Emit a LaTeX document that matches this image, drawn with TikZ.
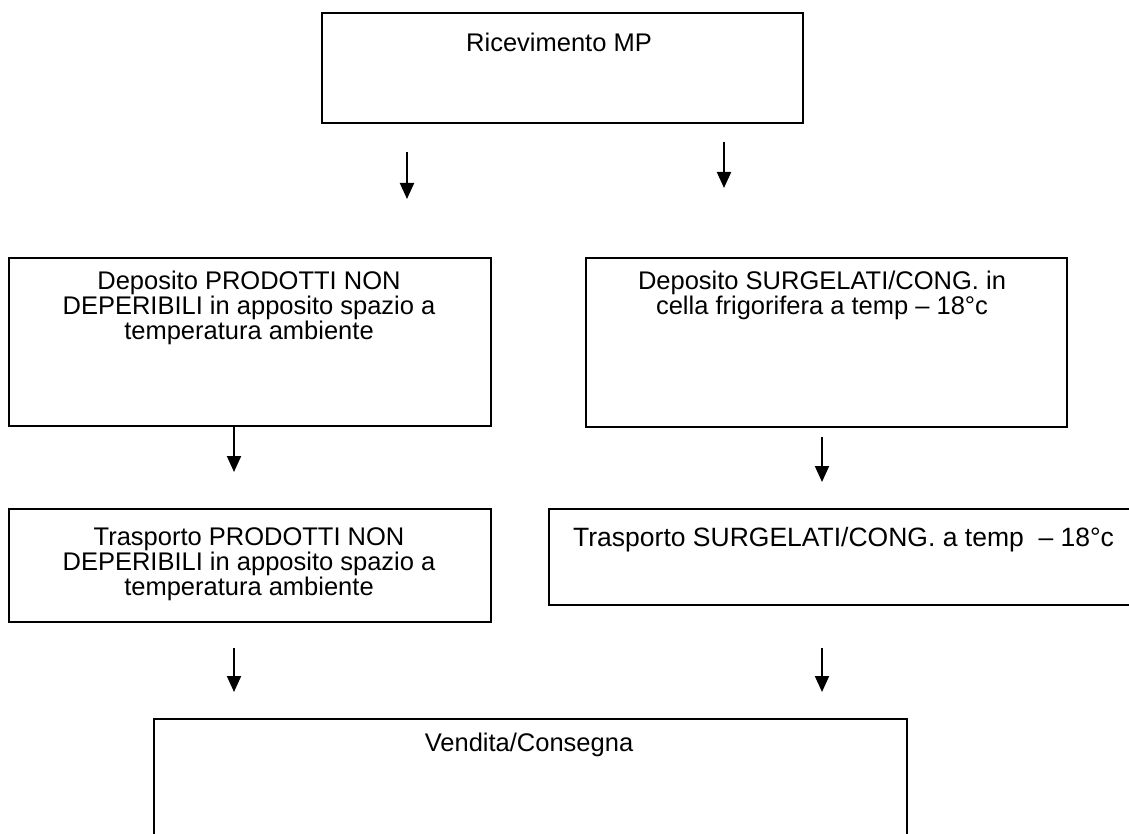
\documentclass[tikz,border=0pt]{standalone}
\usepackage{fontspec}
\setmainfont{Liberation Sans}
\usetikzlibrary{arrows.meta}
\begin{document}
\begin{tikzpicture}[x=1pt,y=-1pt,
  box/.style={draw=black, line width=2pt, inner sep=0pt, anchor=north west},
  txt/.style={font=\fontsize{25.5}{25}\selectfont, align=center, inner sep=0pt, anchor=north},
  arr/.style={line width=2pt, -{Triangle[width=14pt,length=16pt]}}]
\useasboundingbox (0,0) rectangle (1129,834);
\clip (0,0) rectangle (1129,834);
% boxes
\node[box, minimum width=481pt, minimum height=110pt] (b1) at (321,12) {};
\node[box, minimum width=482pt, minimum height=168pt] (b2l) at (8,257) {};
\node[box, minimum width=481pt, minimum height=169pt] (b2r) at (585,257) {};
\node[box, minimum width=482pt, minimum height=113pt] (b3l) at (8,508) {};
\node[box, minimum width=620pt, minimum height=96pt] (b3r) at (548,508) {};
\node[box, minimum width=753pt, minimum height=160pt] (b4) at (153,718) {};
% texts
\node[txt] (t1) at (559,33) {Ricevimento MP};
\node[txt] (t2l) at (249,271) {Deposito PRODOTTI NON\\DEPERIBILI in apposito spazio a\\temperatura ambiente};
\node[txt] (t2r) at (822,271) {Deposito SURGELATI/CONG. in\\cella frigorifera a temp -- 18°c};
\node[txt] (t3l) at (249,527) {Trasporto PRODOTTI NON\\DEPERIBILI in apposito spazio a\\temperatura ambiente};
\node[txt, anchor=north west, font=\fontsize{26.5}{25}\selectfont] (t3r) at (573,527) {Trasporto SURGELATI/CONG. a temp\ \ -- 18°c};
\node[txt] (t4) at (529,733) {Vendita/Consegna};
% arrows
\coordinate (a1s) at (407,152); \coordinate (a1e) at (407,199);
\coordinate (a2s) at (724,142); \coordinate (a2e) at (724,188);
\coordinate (a3s) at (234,426); \coordinate (a3e) at (234,472);
\coordinate (a4s) at (822,437); \coordinate (a4e) at (822,482);
\coordinate (a5s) at (234,648); \coordinate (a5e) at (234,692);
\coordinate (a6s) at (822,648); \coordinate (a6e) at (822,692);
\draw[arr] (a1s) -- (a1e);
\draw[arr] (a2s) -- (a2e);
\draw[arr] (a3s) -- (a3e);
\draw[arr] (a4s) -- (a4e);
\draw[arr] (a5s) -- (a5e);
\draw[arr] (a6s) -- (a6e);
\end{tikzpicture}
\end{document}
